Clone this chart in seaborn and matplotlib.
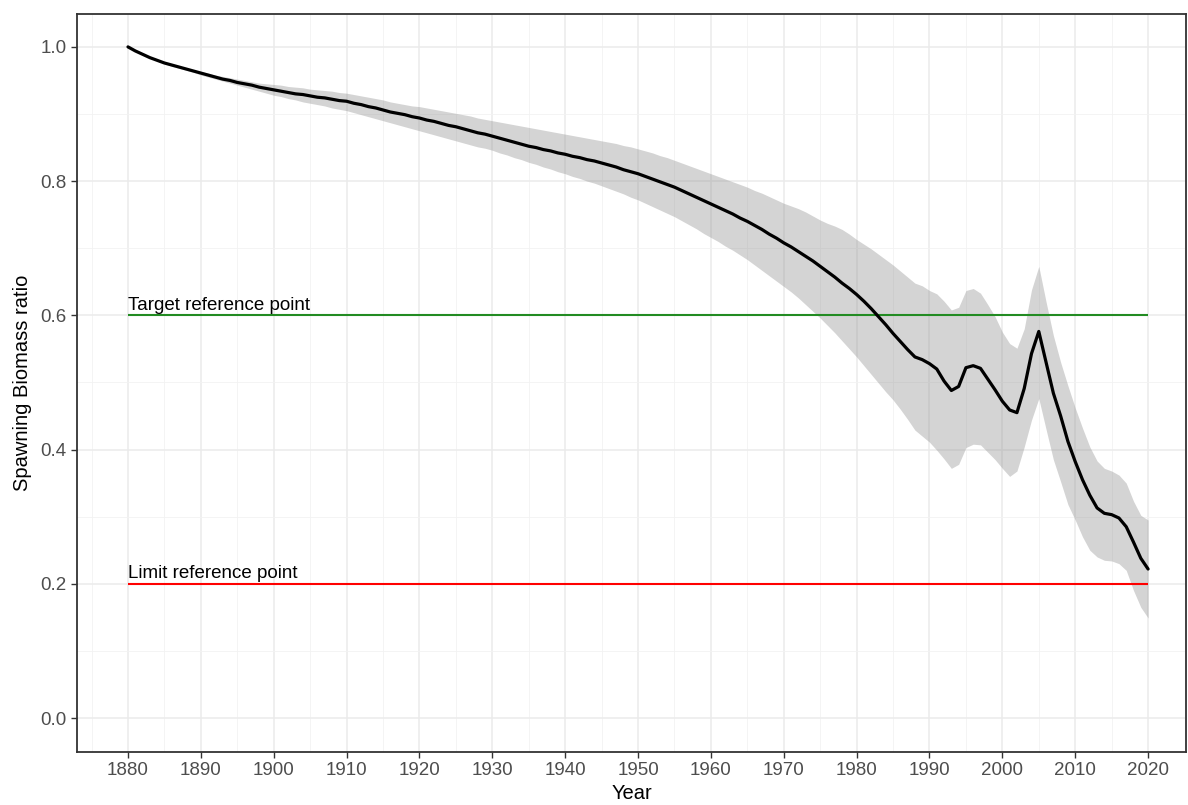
import matplotlib
matplotlib.use("Agg")
import matplotlib.pyplot as plt
from matplotlib.ticker import MultipleLocator, FuncFormatter, FormatStrFormatter
import pandas as pd
import seaborn as sns

# Spawning biomass ratio (SSB / SSB0) by year, with its uncertainty band
years = list(range(1880, 2021))

ssb_ratio = [
    1.000, 0.994, 0.989, 0.984, 0.980, 0.976, 0.973, 0.970, 0.967, 0.964,  # 1880s
    0.961, 0.958, 0.955, 0.952, 0.950, 0.947, 0.945, 0.943, 0.940, 0.938,  # 1890s
    0.936, 0.934, 0.932, 0.930, 0.929, 0.927, 0.925, 0.924, 0.922, 0.920,  # 1900s
    0.919, 0.916, 0.914, 0.911, 0.909, 0.906, 0.903, 0.901, 0.899, 0.896,  # 1910s
    0.894, 0.891, 0.889, 0.886, 0.883, 0.881, 0.878, 0.875, 0.872, 0.870,  # 1920s
    0.867, 0.864, 0.861, 0.858, 0.855, 0.852, 0.850, 0.847, 0.845, 0.842,  # 1930s
    0.840, 0.837, 0.835, 0.832, 0.830, 0.827, 0.824, 0.821, 0.817, 0.814,  # 1940s
    0.811, 0.807, 0.803, 0.799, 0.795, 0.791, 0.786, 0.781, 0.776, 0.771,  # 1950s
    0.766, 0.761, 0.756, 0.751, 0.745, 0.740, 0.734, 0.728, 0.721, 0.715,  # 1960s
    0.708, 0.702, 0.695, 0.688, 0.681, 0.673, 0.665, 0.657, 0.648, 0.640,  # 1970s
    0.631, 0.621, 0.610, 0.598, 0.586, 0.573, 0.561, 0.549, 0.538, 0.534,  # 1980s
    0.528, 0.520, 0.502, 0.488, 0.494, 0.522, 0.525, 0.521, 0.505, 0.489,  # 1990s
    0.472, 0.459, 0.455, 0.491, 0.543, 0.576, 0.530, 0.484, 0.450, 0.412,  # 2000s
    0.382, 0.355, 0.332, 0.313, 0.305, 0.303, 0.298, 0.285, 0.262, 0.238,  # 2010s
    0.222,                                                                  # 2020
]

ssb_upper = [
    1.000, 0.994, 0.989, 0.985, 0.981, 0.977, 0.974, 0.971, 0.968, 0.966,
    0.963, 0.961, 0.958, 0.956, 0.954, 0.952, 0.950, 0.948, 0.946, 0.945,
    0.944, 0.943, 0.941, 0.940, 0.939, 0.937, 0.936, 0.935, 0.934, 0.932,
    0.931, 0.929, 0.927, 0.925, 0.923, 0.921, 0.918, 0.916, 0.914, 0.912,
    0.911, 0.909, 0.907, 0.905, 0.903, 0.901, 0.899, 0.897, 0.894, 0.892,
    0.890, 0.888, 0.886, 0.884, 0.882, 0.880, 0.878, 0.876, 0.874, 0.872,
    0.870, 0.868, 0.866, 0.864, 0.862, 0.860, 0.858, 0.856, 0.853, 0.851,
    0.848, 0.845, 0.842, 0.838, 0.835, 0.831, 0.827, 0.823, 0.819, 0.815,
    0.811, 0.807, 0.803, 0.799, 0.795, 0.791, 0.786, 0.782, 0.777, 0.772,
    0.767, 0.763, 0.759, 0.754, 0.748, 0.742, 0.737, 0.733, 0.728, 0.721,
    0.713, 0.706, 0.699, 0.691, 0.683, 0.675, 0.666, 0.657, 0.648, 0.644,
    0.637, 0.632, 0.621, 0.608, 0.612, 0.637, 0.640, 0.633, 0.616, 0.598,
    0.575, 0.558, 0.551, 0.580, 0.638, 0.673, 0.620, 0.570, 0.530, 0.495,
    0.462, 0.432, 0.404, 0.383, 0.372, 0.368, 0.362, 0.350, 0.323, 0.302,
    0.295,
]

ssb_lower = [
    1.000, 0.994, 0.989, 0.984, 0.979, 0.975, 0.971, 0.968, 0.965, 0.962,
    0.958, 0.955, 0.952, 0.949, 0.946, 0.943, 0.940, 0.937, 0.934, 0.931,
    0.928, 0.926, 0.923, 0.921, 0.918, 0.916, 0.914, 0.912, 0.909, 0.907,
    0.905, 0.902, 0.899, 0.896, 0.893, 0.890, 0.887, 0.884, 0.881, 0.878,
    0.875, 0.872, 0.869, 0.866, 0.863, 0.860, 0.857, 0.854, 0.851, 0.849,
    0.846, 0.842, 0.839, 0.835, 0.832, 0.828, 0.825, 0.821, 0.818, 0.814,
    0.811, 0.807, 0.804, 0.800, 0.797, 0.793, 0.789, 0.785, 0.781, 0.776,
    0.772, 0.767, 0.762, 0.757, 0.752, 0.747, 0.741, 0.735, 0.729, 0.722,
    0.716, 0.710, 0.703, 0.697, 0.690, 0.683, 0.675, 0.667, 0.659, 0.651,
    0.643, 0.635, 0.626, 0.616, 0.606, 0.596, 0.585, 0.574, 0.562, 0.550,
    0.538, 0.525, 0.512, 0.499, 0.486, 0.474, 0.460, 0.445, 0.429, 0.420,
    0.411, 0.399, 0.386, 0.372, 0.378, 0.403, 0.408, 0.407, 0.396, 0.385,
    0.372, 0.360, 0.368, 0.404, 0.444, 0.476, 0.430, 0.385, 0.352, 0.318,
    0.295, 0.270, 0.250, 0.240, 0.235, 0.234, 0.230, 0.220, 0.190, 0.165,
    0.149,
]

# Reference points drawn as horizontal lines over the full time span
ref_labels = ["Target reference point", "Limit reference point"]
ref_values = [0.6, 0.2]
ref_colors = ["#228B22", "#FF0000"]

df = pd.DataFrame({"Year": years, "ratio": ssb_ratio,
                   "upper": ssb_upper, "lower": ssb_lower})

sns.set_theme(style="white")
plt.rcParams["font.family"] = ["Liberation Sans", "DejaVu Sans"]

fig = plt.figure(figsize=(11.88, 8.05), dpi=100)
ax = fig.add_axes([0.0648, 0.0658, 0.9335, 0.9168])

# Grid (bw theme look)
ax.set_axisbelow(True)
ax.xaxis.set_major_locator(MultipleLocator(10))
ax.xaxis.set_minor_locator(MultipleLocator(5))
ax.yaxis.set_major_locator(MultipleLocator(0.2))
ax.yaxis.set_minor_locator(MultipleLocator(0.1))
ax.grid(which="major", color="#EBEBEB", linewidth=1.1)
ax.grid(which="minor", color="#F2F2F2", linewidth=0.6)

# Uncertainty ribbon
ax.fill_between(df["Year"], df["lower"], df["upper"],
                color="#999999", alpha=0.42, linewidth=0, zorder=2)

# Reference lines with their labels
for lab, val, col in zip(ref_labels, ref_values, ref_colors):
    ax.hlines(val, years[0], years[-1], colors=col, linewidth=1.5, zorder=3)
    ax.text(years[0], val + 0.0085, lab, ha="left", va="baseline",
            fontsize=13.5, color="black", zorder=4)

# Central estimate
sns.lineplot(data=df, x="Year", y="ratio", color="black",
             linewidth=2.3, ax=ax, zorder=5)

ax.set_xlim(1873.0, 2025.2)
ax.set_ylim(-0.0507, 1.049)
ax.xaxis.set_major_formatter(FuncFormatter(lambda v, p: f"{int(v)}"))
ax.yaxis.set_major_formatter(FormatStrFormatter("%.1f"))

ax.set_xlabel("Year", fontsize=14.5, color="black", labelpad=3)
ax.set_ylabel("Spawning Biomass ratio", fontsize=14.5, color="black", labelpad=6)

ax.tick_params(axis="both", which="major", direction="out", length=4.5,
               width=1.0, color="#333333", labelsize=13.5, labelcolor="#4D4D4D",
               pad=3, bottom=True, left=True)
ax.tick_params(axis="both", which="minor", length=0)

for side in ["top", "bottom", "left", "right"]:
    ax.spines[side].set_visible(True)
    ax.spines[side].set_color("#333333")
    ax.spines[side].set_linewidth(1.3)

fig.savefig("out.png", dpi=100)
